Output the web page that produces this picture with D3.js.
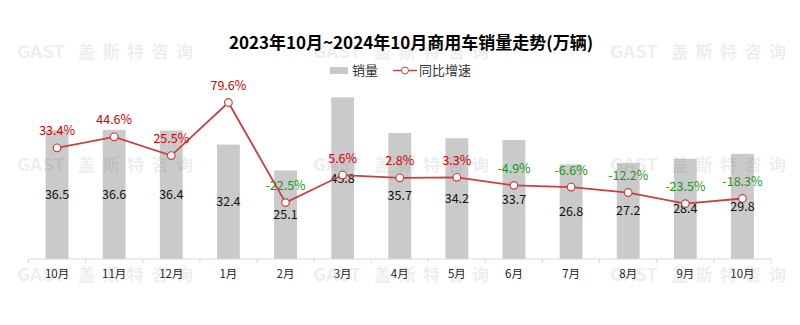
<!DOCTYPE html>
<html><head><meta charset="utf-8">
<script src="https://cdn.jsdelivr.net/npm/d3@7/dist/d3.min.js"></script>
<style>
html,body{margin:0;padding:0;background:#fff;}
svg{display:block;font-family:"Noto Sans CJK SC","Noto Sans",sans-serif;}
</style></head>
<body><svg id="c" width="800" height="325"></svg>
<script>
const months = ["10月","11月","12月","1月","2月","3月","4月","5月","6月","7月","8月","9月","10月"];
const sales = [36.5,36.6,36.4,32.4,25.1,45.8,35.7,34.2,33.7,26.8,27.2,28.4,29.8];
const growth = [33.4,44.6,25.5,79.6,-22.5,5.6,2.8,3.3,-4.9,-6.6,-12.2,-23.5,-18.3];
const title = "2023年10月~2024年10月商用车销量走势(万辆)";
const legendNames = ["销量","同比增速"];

(function(){
const svg = d3.select("#c");
const pL = 28.5, pR = 771, pT = 82.5, pB = 259;

const x = d3.scaleBand().domain(d3.range(months.length)).range([pL, pR]).paddingInner(0.6).paddingOuter(0.3);
const y = d3.scaleLinear().domain([0, 50]).range([pB, pT]);
const y2 = d3.scaleLinear().domain([-80, 100]).range([pB, pT]);

// title
svg.append("text").attr("x", 411).attr("y", 49).attr("text-anchor","middle")
  .attr("font-size", 17).attr("font-weight","bold").attr("fill","#000").text(title);

// legend
const lg = svg.append("g");
lg.append("rect").attr("x",330).attr("y",67).attr("width",18).attr("height",7).attr("fill","#c8c8c8");
lg.append("text").attr("x",352).attr("y",75).attr("font-size",13).attr("fill","#333").text(legendNames[0]);
lg.append("line").attr("x1",393).attr("x2",417).attr("y1",70.5).attr("y2",70.5).attr("stroke","#c9403f").attr("stroke-width",1.5);
lg.append("circle").attr("cx",405).attr("cy",70.5).attr("r",3.5).attr("fill","#fff").attr("stroke","#c9403f").attr("stroke-width",1);
lg.append("text").attr("x",419).attr("y",75).attr("font-size",13).attr("fill","#333").text(legendNames[1]);

// bars
svg.append("g").selectAll("rect").data(sales).join("rect")
  .attr("x",(d,i)=>x(i)).attr("width",x.bandwidth())
  .attr("y",d=>y(d)).attr("height",d=>pB-y(d)).attr("fill","#cacaca");

// axis
const ax = svg.append("g").attr("transform",`translate(0,${pB})`)
  .call(d3.axisBottom(x).tickSize(0).tickPadding(11).tickFormat(i=>months[i]));
ax.select(".domain").attr("stroke","#d9d9d9").attr("d",`M${pL},0H${pR}`);
ax.selectAll("text").attr("font-size",11.5).attr("fill","#222").attr("font-family","\"Noto Sans CJK SC\",sans-serif");
const step = x.step();
ax.append("g").selectAll("line").data(d3.range(months.length+1)).join("line")
  .attr("x1",i=>pL+step*i).attr("x2",i=>pL+step*i).attr("y1",0).attr("y2",4)
  .attr("stroke","#d9d9d9");

// bar labels
svg.append("g").selectAll("text").data(sales).join("text")
  .attr("x",(d,i)=>x(i)+x.bandwidth()/2).attr("y",d=>(y(d)+pB)/2+4.5)
  .attr("text-anchor","middle").attr("font-size",12.5).attr("fill","#111").text(d=>d.toFixed(1));

// line
const cx = i => x(i)+x.bandwidth()/2;
svg.append("path").datum(growth)
  .attr("d", d3.line().x((d,i)=>cx(i)).y(d=>y2(d)))
  .attr("fill","none").attr("stroke","#c9403f").attr("stroke-width",1.8);
svg.append("g").selectAll("circle").data(growth).join("circle")
  .attr("cx",(d,i)=>cx(i)).attr("cy",d=>y2(d)).attr("r",3.8)
  .attr("fill","#fff").attr("stroke","#c9403f").attr("stroke-width",1.2);
svg.append("g").selectAll("text").data(growth).join("text")
  .attr("x",(d,i)=>cx(i)).attr("y",d=>y2(d)-12.5)
  .attr("text-anchor","middle").attr("font-size",12.5)
  .attr("fill",d=>d>=0?"#d00000":"#1a961a").text(d=>d.toFixed(1)+"%");

// watermarks
const wmX = [17, 313, 610], wmY = [58, 171, 281];
const wm = svg.append("g").attr("fill","rgba(120,120,120,0.15)").attr("font-weight","bold").attr("font-size",17);
wmY.forEach(yy=>wmX.forEach(xx=>{
  wm.append("text").attr("x",xx).attr("y",yy).attr("textLength",48).attr("lengthAdjust","spacingAndGlyphs").text("GAST");
  wm.append("text").attr("x",xx+61).attr("y",yy).attr("textLength",115).attr("lengthAdjust","spacing").text("盖斯特咨询");
}));
})();
</script></body></html>
